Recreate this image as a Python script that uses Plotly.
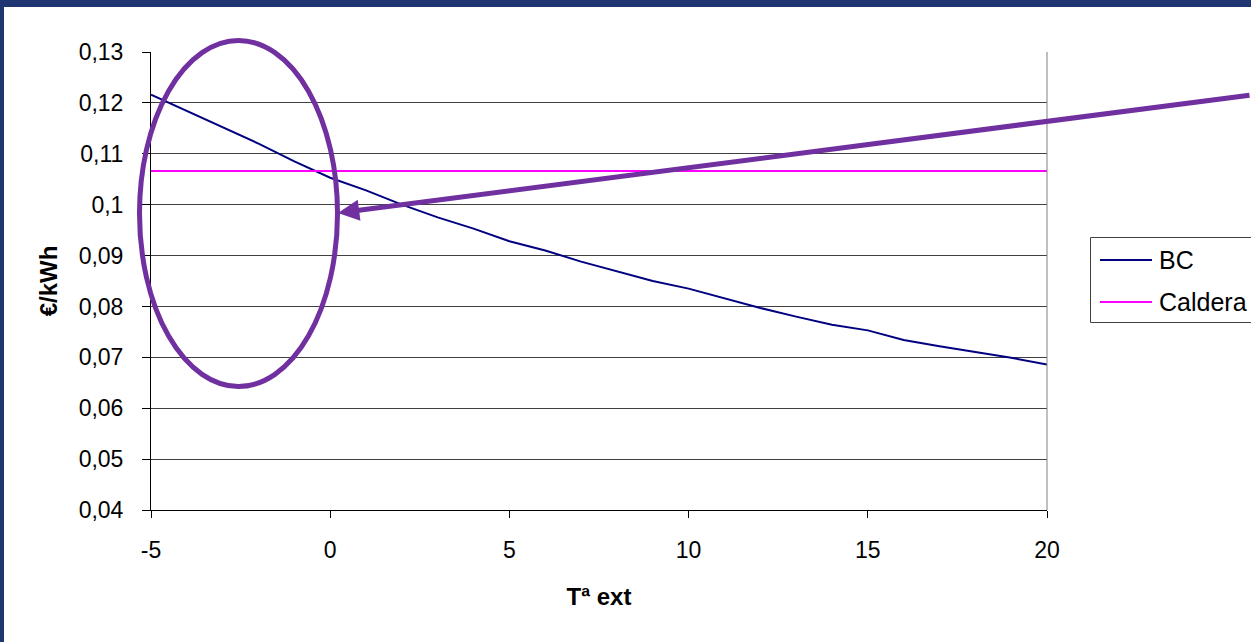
import plotly.graph_objects as go

temps = list(range(-5, 21))
bc = [0.1216, 0.1184, 0.1152, 0.1120, 0.1085, 0.1053, 0.1028, 0.1000, 0.0975, 0.0953,
      0.0928, 0.0910, 0.0888, 0.0869, 0.0850, 0.0835, 0.0816, 0.0797, 0.0780, 0.0764,
      0.0753, 0.0734, 0.0722, 0.0711, 0.0699, 0.0686]
caldera = [0.1066] * len(temps)
series_names = ["BC", "Caldera"]
series_colors = ["#000080", "#FF00FF"]

y_tickvals = [0.04, 0.05, 0.06, 0.07, 0.08, 0.09, 0.10, 0.11, 0.12, 0.13]
y_ticktext = ["0,04", "0,05", "0,06", "0,07", "0,08", "0,09", "0,1", "0,11", "0,12", "0,13"]
x_tickvals = [-5, 0, 5, 10, 15, 20]
x_ticktext = ["-5", "0", "5", "10", "15", "20"]

W, H = 1251, 642
L, R, T, B = 151, 1047, 52, 510
pw, ph = R - L, B - T

def px(x):
    return (x - L) / pw

def py(y):
    return (B - y) / ph

fig = go.Figure()
for name, vals, col in zip(series_names, [bc, caldera], series_colors):
    fig.add_trace(go.Scatter(x=temps, y=vals, mode="lines", name=name,
                             line=dict(color=col, width=2), showlegend=False))

purple = "#7030A0"
frame = "#1F3670"
shapes = [
    dict(type="rect", xref="paper", yref="paper", x0=px(-5), x1=px(W + 5), y0=py(7), y1=py(-5),
         fillcolor=frame, line=dict(width=0), layer="above"),
    dict(type="rect", xref="paper", yref="paper", x0=px(-5), x1=px(4), y0=py(H + 5), y1=py(-5),
         fillcolor=frame, line=dict(width=0), layer="above"),
    dict(type="line", xref="paper", yref="paper", x0=1, x1=1, y0=0, y1=1,
         line=dict(color="#808080", width=1), layer="above"),
    # legend box
    dict(type="rect", xref="paper", yref="paper", x0=px(1090.5), x1=px(1300), y0=py(322.5), y1=py(237.5),
         fillcolor="white", line=dict(color="#404040", width=1), layer="above"),
]
annotations = []
leg_y = [260, 302]
for name, col, yy in zip(series_names, series_colors, leg_y):
    shapes.append(dict(type="line", xref="paper", yref="paper", x0=px(1100), x1=px(1152),
                       y0=py(yy), y1=py(yy), line=dict(color=col, width=2), layer="above"))
    annotations.append(dict(xref="paper", yref="paper", x=px(1157), y=py(yy), text=name,
                            showarrow=False, xanchor="left", yanchor="middle",
                            font=dict(size=25)))

shapes.append(dict(type="circle", xref="paper", yref="paper", x0=px(139.5), x1=px(337.5),
                   y0=py(386.5), y1=py(40.5), line=dict(color=purple, width=5), layer="above"))
annotations.append(dict(xref="paper", yref="paper", x=px(338), y=py(213), ax=930, ay=-118,
                        axref="pixel", ayref="pixel", showarrow=True, arrowhead=2, arrowsize=0.85,
                        arrowwidth=5, arrowcolor=purple, text=""))

font = "Liberation Sans, Arial, sans-serif"

fig.update_layout(
    width=W, height=H,
    margin=dict(l=L, r=W - R, t=T, b=H - B),
    paper_bgcolor="white", plot_bgcolor="white",
    font=dict(family=font, size=23, color="black"),
    shapes=shapes, annotations=annotations,
    showlegend=False,
    xaxis=dict(range=[-5, 20], tickvals=x_tickvals, ticktext=x_ticktext, showgrid=False,
               showline=True, linecolor="black", linewidth=1, ticks="outside",
               ticklen=7, tickcolor="black", zeroline=False,
               title=dict(text="<b>Tª ext</b>", font=dict(size=24), standoff=26),
               ticklabelstandoff=12),
    yaxis=dict(range=[0.04, 0.13], tickvals=y_tickvals, ticktext=y_ticktext,
               showgrid=True, gridcolor="#404040", gridwidth=1,
               showline=True, linecolor="black", linewidth=1, ticks="outside",
               ticklen=8, tickcolor="black", zeroline=False,
               title=dict(text="<b>€/kWh</b>", font=dict(size=24), standoff=14),
               ticklabelstandoff=14),
)

fig.write_html("out.html", config={"displayModeBar": False},
               post_script="document.body.style.margin='0px';document.body.style.overflow='hidden';")
